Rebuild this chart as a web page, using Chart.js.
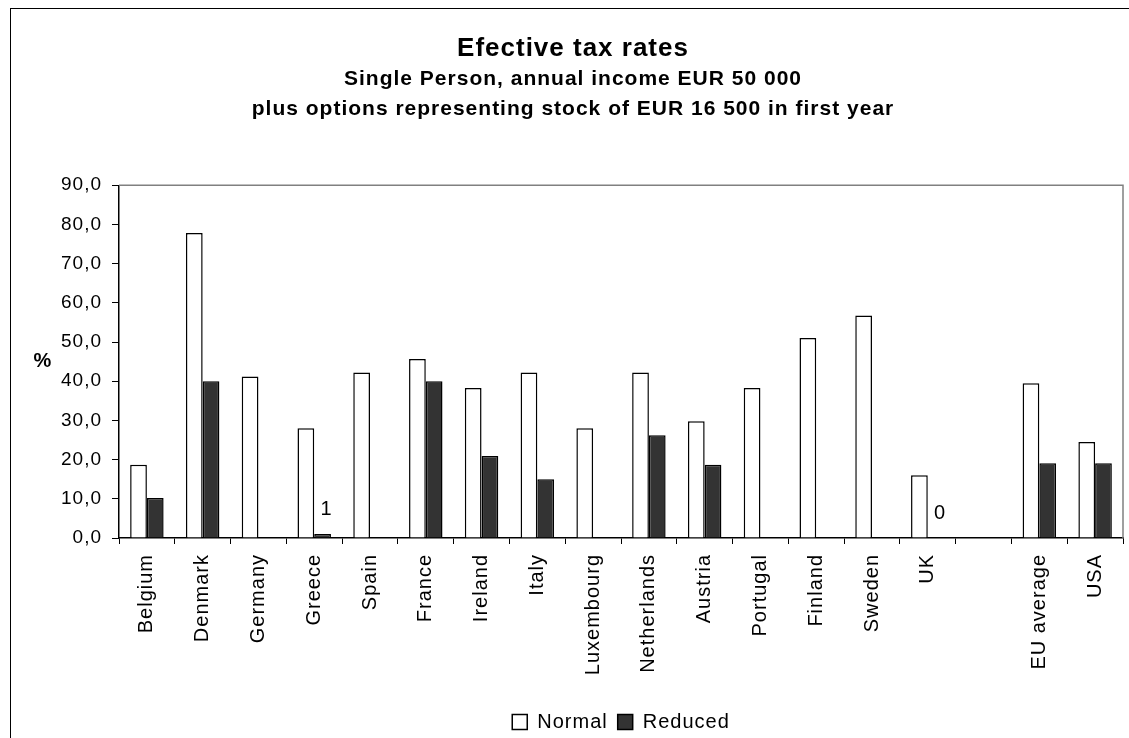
<!DOCTYPE html>
<html>
<head>
<meta charset="utf-8">
<script src="https://cdn.jsdelivr.net/npm/chart.js@4.4.1/dist/chart.umd.min.js"></script>
<style>
  body { margin: 0; background: #fff; overflow: hidden; }
  #frame { position: absolute; left: 10px; top: 8px; width: 1130px; height: 740px; border: 1px solid #000; }
</style>
</head>
<body>
<div id="frame"><canvas id="taxChart" width="1130" height="740"></canvas></div>
<script>
const countries = ['Belgium', 'Denmark', 'Germany', 'Greece', 'Spain', 'France', 'Ireland', 'Italy',
    'Luxembourg', 'Netherlands', 'Austria', 'Portugal', 'Finland', 'Sweden', 'UK', '', 'EU average', 'USA'];
const normalRates = [18.7, 77.8, 41.2, 28.0, 42.2, 45.7, 38.3, 42.2, 28.0, 42.2, 29.8, 38.3, 51.0, 56.8, 16.0, null, 39.5, 24.5];
const reducedRates = [10.2, 40.0, null, 1.0, null, 40.0, 20.9, 15.0, null, 26.2, 18.7, null, null, null, 0, null, 19.1, 19.1];
const reducedLabels = ['', '', '', '1', '', '', '', '', '', '', '', '', '', '', '0', '', '', ''];
const yTickLabels = ['0,0', '10,0', '20,0', '30,0', '40,0', '50,0', '60,0', '70,0', '80,0', '90,0'];

const FONT = "'Liberation Sans', Arial, sans-serif";

// the original text is slightly letter-spaced
const spacing = {
    id: 'spacing',
    beforeLayout(chart) { chart.ctx.letterSpacing = '1px'; },
    beforeDraw(chart) { chart.ctx.letterSpacing = '1px'; }
};

// gray border on top and right of the plot area, "%" label, and the two value labels
const extras = {
    id: 'extras',
    afterDraw(chart) {
        const ctx = chart.ctx;
        const a = chart.chartArea;
        ctx.save();
        ctx.strokeStyle = '#808080';
        ctx.lineWidth = 1.5;
        ctx.beginPath();
        ctx.moveTo(a.left, a.top);
        ctx.lineTo(a.right, a.top);
        ctx.lineTo(a.right, a.bottom);
        ctx.stroke();

        ctx.fillStyle = '#000';
        ctx.font = 'bold 20px ' + FONT;
        ctx.textAlign = 'center';
        ctx.textBaseline = 'middle';
        ctx.fillText('%', 32, (a.top + a.bottom) / 2);

        ctx.font = '20px ' + FONT;
        ctx.textBaseline = 'alphabetic';
        const meta = chart.getDatasetMeta(1);
        meta.data.forEach((bar, i) => {
            if (reducedLabels[i]) {
                ctx.fillText(reducedLabels[i], bar.x + 4, bar.y - 19);
            }
        });
        ctx.restore();
    }
};

const ctx = document.getElementById('taxChart').getContext('2d');
const taxChart = new Chart(ctx, {
    type: 'bar',
    data: {
        labels: countries,
        datasets: [{
            label: 'Normal',
            data: normalRates,
            backgroundColor: '#ffffff',
            borderColor: '#000000',
            borderWidth: 1.5
        }, {
            label: 'Reduced',
            data: reducedRates,
            backgroundColor: '#333333',
            borderColor: '#000000',
            borderWidth: 1.5
        }]
    },
    options: {
        responsive: false,
        animation: false,
        categoryPercentage: 0.6,
        barPercentage: 1.0,
        layout: { padding: { left: 12, right: 18, top: 0, bottom: 7 } },
        plugins: {
            title: {
                display: true,
                text: 'Efective tax rates',
                color: '#000',
                font: { family: FONT, size: 26, weight: 'bold', lineHeight: 1.2 },
                padding: { top: 24, bottom: 0 }
            },
            subtitle: {
                display: true,
                text: ['Single Person, annual income EUR 50 000', 'plus options representing stock of EUR 16 500 in first year'],
                color: '#000',
                font: { family: FONT, size: 21, weight: 'bold', lineHeight: 1.43 },
                padding: { top: 0, bottom: 61 }
            },
            legend: {
                position: 'bottom',
                fullSize: false,
                labels: {
                    color: '#000',
                    font: { family: FONT, size: 20 },
                    boxWidth: 15,
                    boxHeight: 15,
                    padding: 10
                }
            },
            tooltip: { enabled: false }
        },
        scales: {
            x: {
                grid: { display: true, drawOnChartArea: false, offset: true, color: '#000', tickLength: 6 },
                border: { display: true, color: '#000', width: 1.5 },
                ticks: {
                    color: '#000',
                    font: { family: FONT, size: 20 },
                    minRotation: 90,
                    maxRotation: 90,
                    autoSkip: false,
                    padding: 10
                },
                afterFit: function (scale) { scale.height = 164; }
            },
            y: {
                min: 0,
                max: 90,
                grid: { display: true, drawOnChartArea: false, color: '#000', tickLength: 7 },
                border: { display: true, color: '#000', width: 1.5 },
                ticks: {
                    stepSize: 10,
                    color: '#000',
                    font: { family: FONT, size: 19 },
                    padding: 10,
                    callback: function (value) { return yTickLabels[Math.round(value / 10)]; }
                },
                afterFit: function (scale) { scale.width = 96; }
            }
        }
    },
    plugins: [spacing, extras]
});
</script>
</body>
</html>
